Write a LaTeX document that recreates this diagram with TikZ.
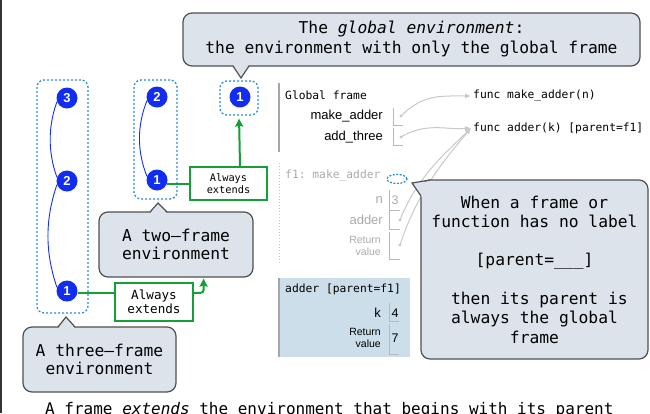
\documentclass[tikz,border=0pt]{standalone}
\usepackage{fontspec}
\setmainfont{Liberation Sans}
\setmonofont{DejaVu Sans Mono}
\usetikzlibrary{arrows.meta}
\definecolor{envblue}{RGB}{18,45,240}
\definecolor{dotblue}{RGB}{40,140,220}
\definecolor{extgreen}{RGB}{20,160,55}
\definecolor{callfill}{RGB}{220,227,234}
\definecolor{callline}{RGB}{80,80,80}
\definecolor{ptrgray}{RGB}{200,200,200}
\definecolor{fadegray}{RGB}{170,170,170}
\definecolor{valgray}{RGB}{185,185,185}
\definecolor{adderfill}{RGB}{203,222,233}

\begin{document}
\begin{tikzpicture}[x=1pt,y=-1pt,
  frm/.style={circle,fill=envblue,text=white,inner sep=0pt,minimum size=21pt,font=\bfseries\fontsize{13}{13}\selectfont},
  envbox/.style={draw=dotblue,line width=1.3pt,dash pattern=on 2pt off 2pt,rounded corners=7pt,inner sep=0pt},
  envlink/.style={envblue,line width=0.9pt},
  extbox/.style={draw=extgreen,line width=2pt,fill=white,align=center,inner sep=0pt},
  extline/.style={extgreen,line width=2pt},
  ext/.style={extline,-{Stealth[length=8pt,width=8pt,inset=1pt]}},
  callbox/.style={draw=callline,line width=1.2pt,fill=callfill,rounded corners=9pt,align=center,inner sep=0pt},
  callptr/.style={callline,line width=1.2pt},
  varname/.style={anchor=east,inner sep=0pt,font=\fontsize{13}{13}\selectfont},
  retname/.style={anchor=east,inner sep=0pt,align=right,font=\fontsize{10.5}{12}\selectfont},
  valnum/.style={inner sep=0pt,font=\fontsize{12.5}{12}\selectfont},
  ttlabel/.style={anchor=west,inner sep=0pt,font=\ttfamily\fontsize{11.3}{12}\selectfont},
  valbox/.style={draw=valgray,line width=0.8pt},
  ptr/.style={ptrgray,line width=1pt,-{Latex[length=6pt,width=5pt]}}]

\useasboundingbox (0,0) rectangle (650,413);
\draw[line width=1.5pt,black!80] (1,0) -- (1,413);

% environments
\node[envbox,minimum width=51pt,minimum height=233pt] (threeenv) at (62.5,196.5) {};
\node[envbox,minimum width=43pt,minimum height=119pt] (twoenv) at (155.5,139.5) {};
\node[envbox,minimum width=38pt,minimum height=34pt] (genv) at (239,98) {};

\node[frm] (a3) at (67,98) {3};
\node[frm] (a2) at (67,181) {2};
\node[frm] (a1) at (67,291) {1};
\node[frm] (b2) at (157,97) {2};
\node[frm] (b1) at (157,180) {1};
\node[frm] (c1) at (240,97) {1};

\draw[envlink] (a3.200) .. controls +(-9,25) and +(-9,-25) .. (a2.160);
\draw[envlink] (a2.200) .. controls +(-12,35) and +(-12,-35) .. (a1.160);
\draw[envlink] (b2.200) .. controls +(-10,25) and +(-10,-25) .. (b1.160);

\node[extbox,minimum width=77pt,minimum height=33pt,font=\ttfamily\fontsize{10.3}{12}\selectfont] (ext1) at (228.5,183.5) {Always\\extends};
\node[extbox,minimum width=78pt,minimum height=38pt,font=\ttfamily\fontsize{12.6}{14}\selectfont] (ext2) at (154,302) {Always\\extends};
\draw[extline] (b1.-20) -- (b1.-20 -| ext1.west);
\draw[ext,shorten >=3pt] (c1 |- ext1.north) -- (genv.south);
\draw[extline] (a1.-10) -- (a1.-10 -| ext2.west);

% global frame
\draw[gray!70,line width=1.2pt] (279,83) -- (279,152);
\node[ttlabel] (gframe) at (285,95) {Global frame};
\node[varname] (mkname) at (383,116) {make\_adder};
\node[varname] (atname) at (383,137) {add\_three};
\draw[valbox] (393,108) |- (403,125);
\draw[valbox] (393,128) |- (403,145);
\coordinate (mkdot) at (401,116);
\coordinate (atdot) at (401,137);
\fill[ptrgray] (mkdot) circle[radius=1.6pt];
\fill[ptrgray] (atdot) circle[radius=1.6pt];
\node[ttlabel] (fmk) at (473,96) {func make\_adder(n)};
\node[ttlabel] (fad) at (473,128) {func adder(k) [parent=f1]};
\draw[ptr] (mkdot) .. controls +(22,-22) and +(-30,0) .. ([xshift=-2pt]fmk.west);
\draw[ptr] (atdot) .. controls +(25,-15) and +(-25,2) .. ([xshift=-2pt]fad.west);

% f1 frame
\draw[fadegray!70,line width=1pt,dotted] (279,163) -- (279,263);
\node[ttlabel,text=fadegray] (f1name) at (285,176) {f1: make\_adder};
\draw[dotblue,line width=1.2pt,dash pattern=on 2pt off 1.5pt] (397,179) ellipse [x radius=10pt,y radius=4.5pt];
\node[varname,text=fadegray] (nname) at (383,200) {n};
\draw[valbox] (389,190) |- (400,210);
\node[valnum,text=fadegray] (nval) at (395,200) {3};
\node[varname,text=fadegray] (addername) at (383,220) {adder};
\draw[valbox] (389,211) |- (400,229);
\node[retname,text=fadegray] (f1ret) at (381,246) {Return\\value};
\draw[valbox] (389,232) |- (400,259);
\coordinate (adot) at (400,220);
\coordinate (rdot) at (400,245);
\fill[ptrgray] (adot) circle[radius=1.6pt];
\fill[ptrgray] (rdot) circle[radius=1.6pt];
\draw[ptr] (adot) .. controls +(18,-45) and +(-25,25) .. ([xshift=-2pt]fad.west);
\draw[ptr] (rdot) .. controls +(18,-55) and +(-25,30) .. ([xshift=-2pt]fad.west);

% adder frame
\fill[adderfill] (278,278) rectangle (410,357);
\draw[gray!70,line width=1.2pt] (279,278) -- (279,357);
\node[ttlabel] (addname) at (285,289) {adder [parent=f1]};
\node[varname] (kname) at (381,313) {k};
\draw[valbox] (389,303) |- (399,321);
\node[valnum] (kval) at (395,313) {4};
\node[retname] (addret) at (381,338) {Return\\value};
\draw[valbox] (389,324) |- (399,354);
\node[valnum] (rval) at (395,338) {7};

% callouts
\node[callbox,minimum width=457pt,minimum height=53pt,font=\ttfamily\fontsize{16.3}{20}\selectfont] (gcall) at (411.5,39.5) {The \textit{global environment}:\\the environment with only the global frame};
\fill[callfill] (233,64.5) -- (241,78) -- (249,64.5) -- cycle;
\draw[callptr] (233,66) -- (241,78) -- (249,66);

\node[callbox,minimum width=154pt,minimum height=65pt,font=\ttfamily\fontsize{16.3}{18}\selectfont] (twocall) at (176,244.5) {A two–frame\\environment};
\fill[callfill] (150,213.5) -- (158,203) -- (167,213.5) -- cycle;
\draw[callptr] (150,212) -- (158,203) -- (167,212);
\draw[ext,rounded corners=3pt,shorten >=1pt] (ext2.east |- a1.-10) -| ([xshift=-50pt]twocall.south east);

\node[callbox,minimum width=153pt,minimum height=65pt,font=\ttfamily\fontsize{16.3}{18}\selectfont] (threecall) at (99.5,359.5) {A three–frame\\environment};
\fill[callfill] (58,328.5) -- (66,317) -- (75,328.5) -- cycle;
\draw[callptr] (58,327) -- (66,317) -- (75,327);

\node[callbox,minimum width=227pt,minimum height=179pt,font=\ttfamily\fontsize{16.3}{19.3}\selectfont] (bigcall) at (534.5,269.5) {When a frame or\\function has no label\\[19.3pt][parent=\_\_\_]\\[19.3pt]~then its parent is\\always the global\\frame};
\fill[callfill] (412,183) -- (431,181) -- (421.8,197) -- cycle;
\draw[callptr] (430,180) -- (412,183) -- (421,196);

\node[anchor=base west,inner sep=0pt,font=\ttfamily\fontsize{16}{16}\selectfont] (caption) at (45,414) {A frame \textit{extends} the environment that begins with its parent};
\end{tikzpicture}
\end{document}
